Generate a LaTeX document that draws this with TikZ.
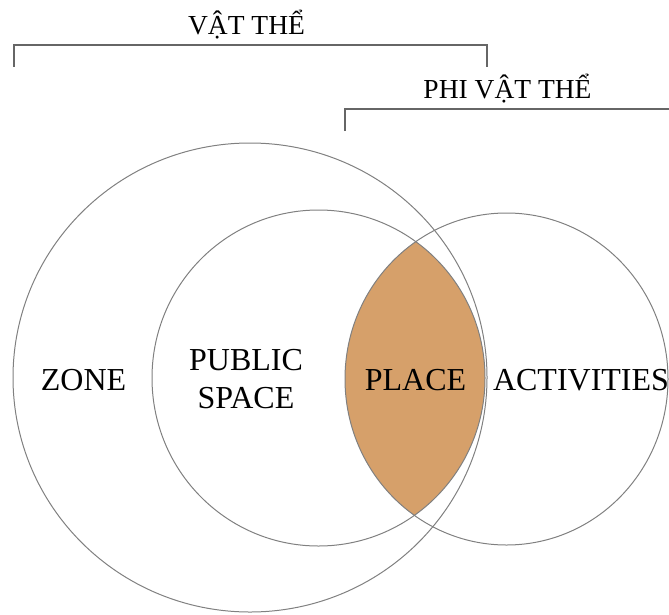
\documentclass[tikz,border=0pt]{standalone}
\usepackage{fontspec}
\setmainfont{Liberation Serif}
\definecolor{placeorange}{RGB}{214,160,106}
\definecolor{ringgray}{RGB}{128,128,128}
\tikzset{
  ring/.style={draw=ringgray, line width=1pt},
  brace/.style={draw=ringgray!80!black, line width=1.2pt},
  head/.style={font=\fontsize{27.5}{32}\selectfont, anchor=base},
  word/.style={font=\fontsize{32}{38}\selectfont, anchor=base}
}
\begin{document}
\begin{tikzpicture}[scale=0.351459]
\tikzstyle{every node}+=[inner sep=0pt]
\useasboundingbox (0,0) rectangle (66.9,-61.4);
\begin{scope}
\clip (31.85,-37.8) ellipse [x radius=16.65, y radius=16.8];
\fill [placeorange] (50.65,-37.9) ellipse [x radius=16.15, y radius=16.6];
\end{scope}
\draw [ring] (25.0,-37.75) ellipse [x radius=23.7, y radius=23.45];
\draw [ring] (31.85,-37.8) ellipse [x radius=16.65, y radius=16.8];
\draw [ring] (50.65,-37.9) ellipse [x radius=16.15, y radius=16.6];
\draw [brace] (1.4,-6.65) -- (1.4,-4.5) -- (48.7,-4.5) -- (48.7,-6.65);
\draw [brace] (34.5,-13.1) -- (34.5,-10.9) -- (66.9,-10.9);
\node [head] (vatthe) at (24.65,-3.4) {VẬT THỂ};
\node [head] (phivatthe) at (50.75,-9.8) {PHI VẬT THỂ};
\node [word] (zone) at (8.35,-39.0) {ZONE};
\node [word, anchor=center, align=center] (public) at (24.6,-37.9) {PUBLIC\\SPACE};
\node [word] (place) at (41.55,-39.0) {PLACE};
\node [word] (activities) at (58.1,-39.0) {ACTIVITIES};
\end{tikzpicture}
\end{document}
